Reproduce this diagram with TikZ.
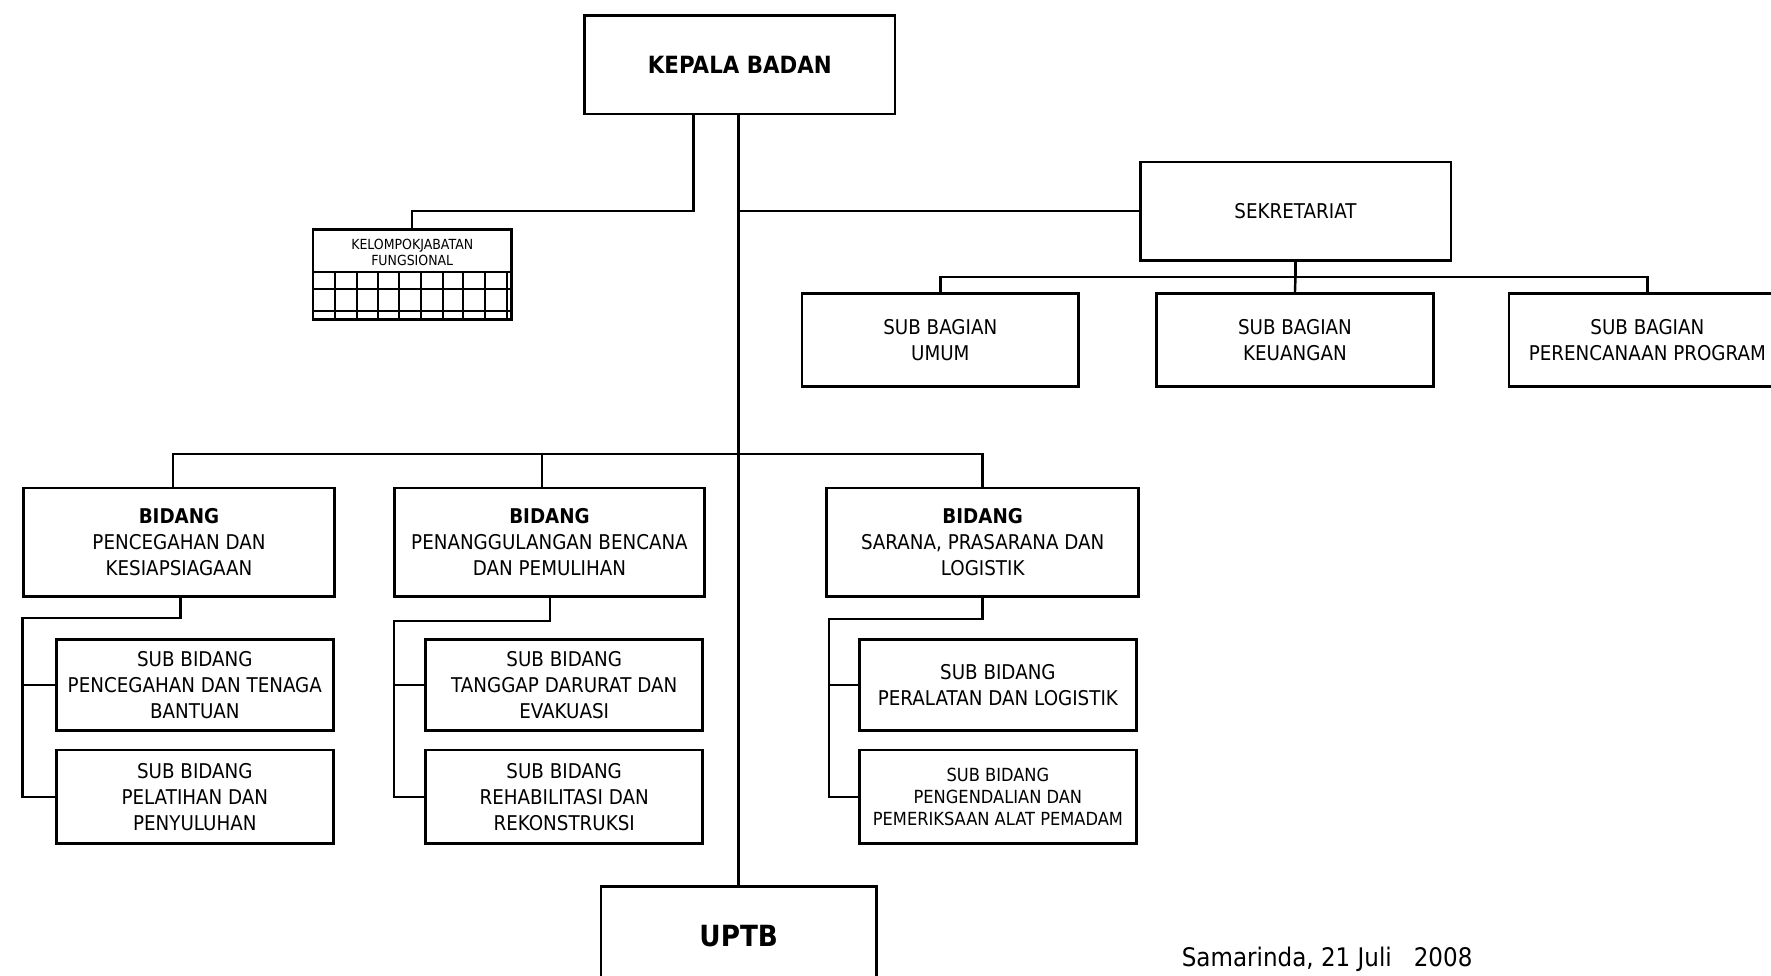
\documentclass[tikz,border=0pt]{standalone}
\usepackage{fontspec}
\setmainfont{DejaVu Sans}[FakeStretch=0.9]
\begin{document}
\def\u{0.6pt}
\tikzset{
  box/.style={draw, line width=1.4pt, rectangle, inner sep=0pt, align=center,
    font=\fontsize{10.8}{13.7}\selectfont},
  bigbox/.style={box, minimum width=275*\u, minimum height=87*\u},
  bidbox/.style={box, minimum width=275*\u, minimum height=96*\u},
  subbox/.style={box, minimum width=245*\u, minimum height=82*\u},
  conn/.style={line width=1.3pt},
  grid/.style={line width=1.3pt}
}
\begin{tikzpicture}[x=0.6pt,y=-0.6pt]
\useasboundingbox (0,0) rectangle (1568,863.3);
\fill[white] (0,0) rectangle (1568,863.3);

% top
\node[bigbox, font=\bfseries\fontsize{12.6}{15}\selectfont] (kb) at (655,57.5) {KEPALA BADAN};
\node[bigbox] (sek) at (1147,187) {SEKRETARIAT};
\node[subbox] (sbu) at (832.5,301) {SUB BAGIAN\\UMUM};
\node[subbox] (sbk) at (1146.5,301) {SUB BAGIAN\\KEUANGAN};
\node[subbox] (sbp) at (1458.5,301) {SUB BAGIAN\\PERENCANAAN PROGRAM};

% kelompok jabatan fungsional
\node[draw, line width=1.4pt, minimum width=176*\u, minimum height=80*\u, inner sep=0pt] (kjf) at (365,243) {};
\node[inner sep=0pt, align=center, font=\fontsize{7.4}{8.9}\selectfont] (kjft) at (365,223.5) {KELOMPOKJABATAN\\FUNGSIONAL};
\draw[grid] (277,241) -- (453,241) (277,256) -- (453,256) (277,275.5) -- (453,275.5);
\foreach \gx in {296.6,316.1,334.7,353.3,372.7,392.2,409.9,429.4,448.9}
  \draw[grid] (\gx,241) -- (\gx,283);

% bidang
\node[bidbox] (b1) at (158.5,480) {\textbf{BIDANG}\\PENCEGAHAN DAN\\KESIAPSIAGAAN};
\node[bidbox] (b2) at (486.5,480) {\textbf{BIDANG}\\PENANGGULANGAN BENCANA\\DAN PEMULIHAN};
\node[bidbox, minimum width=276*\u] (b3) at (870,480) {\textbf{BIDANG}\\SARANA, PRASARANA DAN\\LOGISTIK};

% sub bidang
\node[subbox, minimum height=81*\u] (s11) at (172.5,606.5) {SUB BIDANG\\PENCEGAHAN DAN TENAGA\\BANTUAN};
\node[subbox, minimum height=83*\u] (s12) at (172.5,705.5) {SUB BIDANG\\PELATIHAN DAN\\PENYULUHAN};
\node[subbox, minimum height=81*\u] (s21) at (499.5,606.5) {SUB BIDANG\\TANGGAP DARURAT DAN\\EVAKUASI};
\node[subbox, minimum height=83*\u] (s22) at (499.5,705.5) {SUB BIDANG\\REHABILITASI DAN\\REKONSTRUKSI};
\node[subbox, minimum height=81*\u] (s31) at (883.5,606.5) {SUB BIDANG\\PERALATAN DAN LOGISTIK};
\node[subbox, minimum height=83*\u, font=\fontsize{9.6}{11.7}\selectfont] (s32) at (883.5,705.5) {SUB BIDANG\\PENGENDALIAN DAN\\PEMERIKSAAN ALAT PEMADAM};

% uptb
\node[box, minimum width=244*\u, minimum height=87*\u, font=\bfseries\fontsize{15.5}{18}\selectfont] (uptb) at (654,828.5) {UPTB};

% date
\node[anchor=base west, inner sep=0pt, font=\fontsize{13.6}{16}\selectfont] (date) at (1046,856) {Samarinda, 21 Juli\ \ \ 2008};

% connectors
\coordinate (c0) at (654,100);
\coordinate (c1) at (614,187);
\coordinate (c2) at (654,187);
\coordinate (c3) at (1147,245);
\coordinate (c4) at (654,402);
\coordinate (d1) at (153,402);
\coordinate (d2) at (480,402);
\coordinate (d3) at (870,402);

\draw[conn] (kb.south -| c1) -- (c1) -| (kjf.north);
\draw[conn] (kb.south -| c0) -- (uptb.north);
\draw[conn] (c2) -- (sek.west);
\draw[conn] (sek.south) -- (c3);
\draw[conn] (sbu.north) |- (c3) -| (sbp.north);
\draw[conn] (c3) -- (sbk.north);
\draw[conn] (d1 |- b1.north) -- (d1) -- (d3) -- (d3 |- b3.north);
\draw[conn] (d2) -- (d2 |- b2.north);

\coordinate (e1) at (160,547); \coordinate (f1) at (20,547);
\coordinate (e2) at (487,550); \coordinate (f2) at (349,550);
\coordinate (e3) at (870,548); \coordinate (f3) at (734,548);
\draw[conn] (e1 |- b1.south) -- (e1) -- (f1) |- (s12.west);
\draw[conn] (f1 |- s11.west) -- (s11.west);
\draw[conn] (e2 |- b2.south) -- (e2) -- (f2) |- (s22.west);
\draw[conn] (f2 |- s21.west) -- (s21.west);
\draw[conn] (e3 |- b3.south) -- (e3) -- (f3) |- (s32.west);
\draw[conn] (f3 |- s31.west) -- (s31.west);
\end{tikzpicture}
\end{document}
